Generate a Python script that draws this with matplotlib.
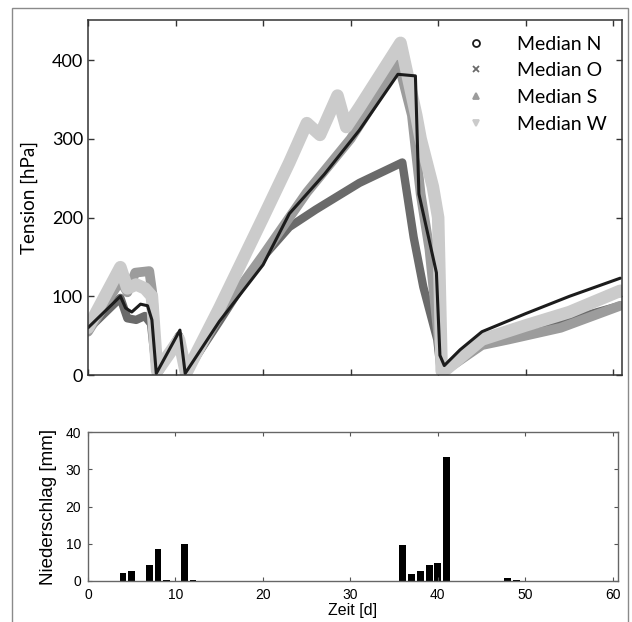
import matplotlib
matplotlib.use("Agg")
import matplotlib.pyplot as plt
from matplotlib.lines import Line2D
from matplotlib.patches import Rectangle

# tension medians (day, hPa)
n_days = [0, 3.7, 4.3, 5, 6, 6.8, 7.3, 7.8, 10.5, 11.1, 15, 20, 23, 27, 31, 35.4, 37.4, 37.8,
          39.8, 40.2, 40.7, 42.5, 45, 50, 55, 60.8]
n_vals = [60, 100, 85, 80, 90, 88, 70, 2, 57, 2, 68, 140, 205, 255, 311, 382, 380, 230,
          130, 25, 12, 32, 55, 78, 100, 123]

o_days = [0, 3.7, 4.5, 5.5, 6.5, 7.2, 7.8, 10.4, 11.1, 15, 18, 20, 23, 26, 31, 35.9, 37.2, 38.3,
          39.9, 40.3, 41, 45, 50, 55, 60.8]
o_vals = [58, 98, 72, 70, 75, 65, 2, 50, 2, 68, 120, 150, 188, 210, 244, 270, 175, 112,
          45, 5, 12, 42, 55, 70, 88]

s_days = [0, 3.7, 4.5, 5.4, 7.0, 7.4, 7.9, 10.4, 11.2, 15, 20, 25, 30, 35.5, 37, 38, 39,
          40.2, 40.6, 42, 45, 48, 54, 60.8]
s_vals = [55, 120, 105, 130, 132, 100, 2, 48, 2, 75, 152, 232, 300, 395, 330, 230, 160,
          30, 5, 15, 38, 45, 60, 88]

w_days = [0, 3.7, 4.5, 5.5, 6.5, 7.3, 7.9, 10.4, 11.2, 15, 20, 23, 25, 26.5, 28.5, 29.5, 31,
          35.7, 37.5, 38, 39.4, 40, 40.4, 41, 45, 50, 55, 60.8]
w_vals = [60, 137, 110, 115, 110, 100, 5, 45, 2, 85, 200, 270, 320, 305, 355, 315, 340,
          422, 330, 300, 239, 200, 5, 8, 45, 63, 80, 107]

# daily precipitation (mm)
rain_days = [4, 5, 7, 8, 9, 11, 12, 34, 36, 37, 38, 39, 40, 41, 43, 48, 49]
rain_mm = [2.2, 2.6, 4.2, 8.7, 0.2, 9.8, 0.2, 0.1, 9.6, 2.0, 2.8, 4.4, 4.7, 33.3, 0.1, 0.9, 0.2]

series = [
    ("Median O", o_days, o_vals, "#6a6a6a", "x", 6),
    ("Median S", s_days, s_vals, "#9c9c9c", "^", 7),
    ("Median W", w_days, w_vals, "#cbcbcb", "v", 9),
    ("Median N", n_days, n_vals, "#1c1c1c", "o", 2.2),
]
legend_order = ["Median N", "Median O", "Median S", "Median W"]

hum = ["Lato", "DejaVu Sans"]
sans = ["Liberation Sans", "DejaVu Sans"]

fig = plt.figure(figsize=(6.32, 6.22), dpi=100)
fig.patches.append(Rectangle((12 / 632, -0.01), 616 / 632, 1 - 8 / 622 + 0.01,
                             transform=fig.transFigure, fill=False, edgecolor="#8a8a8a",
                             linewidth=1.0))

ax = fig.add_axes([88 / 632, 1 - 375 / 622, 534 / 632, 355 / 622])
for label, d, v, col, mk, lw in series:
    ax.plot(d, v, color=col, linewidth=lw, solid_joinstyle="round", solid_capstyle="round")

ax.set_xlim(0, 61)
ax.set_ylim(0, 451)
ax.set_xticks(range(0, 61, 10))
ax.set_xticklabels([])
ax.set_yticks([0, 100, 200, 300, 400])
ax.tick_params(direction="in", top=True, right=True, length=4, width=1, color="#333333")
for lab in ax.get_yticklabels():
    lab.set_family(hum)
    lab.set_fontsize(13)
ax.set_ylabel("Tension [hPa]", family=hum, fontsize=13.5, labelpad=10)
for sp in ax.spines.values():
    sp.set_color("#333333")
    sp.set_linewidth(1.1)

style = {s[0]: s for s in series}
handles = [Line2D([], [], linestyle="none", marker=style[k][4], color=style[k][3],
                  markerfacecolor="none" if style[k][4] == "o" else style[k][3],
                  markersize=5, markeredgewidth=1.3)
           for k in legend_order]
ax.legend(handles, legend_order, loc="upper right", frameon=False,
          prop={"family": hum, "size": 14}, handletextpad=1.5, labelspacing=0.5,
          borderaxespad=0.5, handlelength=1.2, borderpad=0.3)

ax2 = fig.add_axes([88 / 632, 1 - 581 / 622, 530 / 632, 149 / 622])
ax2.bar(rain_days, rain_mm, width=0.78, color="black")
ax2.set_xlim(0, 60.6)
ax2.set_ylim(0, 40)
ax2.set_xticks(range(0, 61, 10))
ax2.set_yticks(range(0, 41, 10))
ax2.tick_params(direction="in", top=True, right=True, length=3, width=0.8,
                color="#555555", labelsize=10, pad=5)
for lab in ax2.get_xticklabels() + ax2.get_yticklabels():
    lab.set_family(sans)
ax2.set_xlabel("Zeit [d]", family=sans, fontsize=11.5, labelpad=1)
ax2.set_ylabel("Niederschlag [mm]", family=sans, fontsize=13.5, labelpad=6)
for sp in ax2.spines.values():
    sp.set_color("#666666")
    sp.set_linewidth(1.0)

fig.savefig("out.png", dpi=100)
